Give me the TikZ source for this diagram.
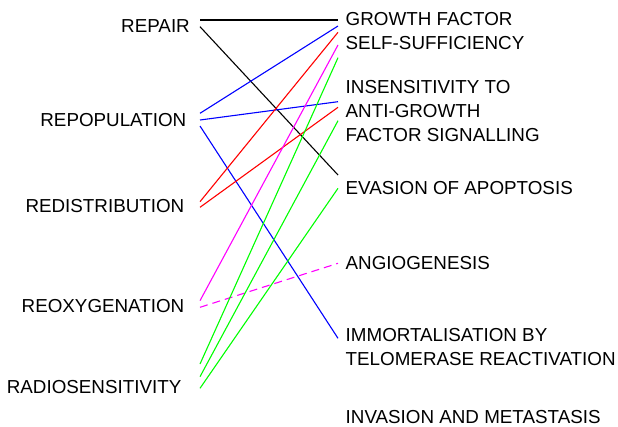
\documentclass[tikz,border=0pt]{standalone}
\usepackage{fontspec}
\setmainfont{Liberation Sans}
\definecolor{cmagenta}{RGB}{255,0,255}
\definecolor{cgreenc}{RGB}{0,255,0}
\definecolor{cbluec}{RGB}{0,0,255}
\definecolor{credc}{RGB}{255,0,0}
\begin{document}
\begin{tikzpicture}[x=1pt,y=-1pt,
  lbl/.style={inner sep=0pt,font=\fontsize{18.8}{24.3}\selectfont},
  lft/.style={lbl,anchor=base east},
  rgt/.style={lbl,anchor=base west},
  conn/.style={line width=1.1pt},
  cblack/.style={conn,black},
  cblue/.style={conn,cbluec},
  cred/.style={conn,credc},
  cmag/.style={conn,cmagenta},
  cgreen/.style={conn,cgreenc},
  cdash/.style={conn,cmagenta,dash pattern=on 8pt off 5pt}]
\useasboundingbox (0,0) rectangle (618,426);
% left labels
\node[lft] (repair) at (190,32) {REPAIR};
\node[lft] (repop) at (186.5,126) {REPOPULATION};
\node[lft] (redist) at (184.5,212) {REDISTRIBUTION};
\node[lft] (reoxy) at (184.5,312) {REOXYGENATION};
\node[lft] (radio) at (181.5,393) {RADIOSENSITIVITY};
% right labels
\node[rgt] (gf) at (345.5,25) {GROWTH FACTOR};
\node[rgt] (gf2) at (345.5,49.5) {SELF-SUFFICIENCY};
\node[rgt] (ins) at (345.5,93) {INSENSITIVITY TO};
\node[rgt] (ins2) at (345.5,117) {ANTI-GROWTH};
\node[rgt] (ins3) at (345.5,141) {FACTOR SIGNALLING};
\node[rgt] (eva) at (345.5,194) {EVASION OF APOPTOSIS};
\node[rgt] (ang) at (345.5,269) {ANGIOGENESIS};
\node[rgt] (imm) at (345.5,341) {IMMORTALISATION BY};
\node[rgt] (imm2) at (345.5,365) {TELOMERASE REACTIVATION};
\node[rgt] (inv) at (345.5,423) {INVASION AND METASTASIS};
% connector end points
\coordinate (rpA) at (200,20);   \coordinate (rpB) at (200,26.7);
\coordinate (poA) at (200,113.3); \coordinate (poB) at (200,120); \coordinate (poC) at (200,126);
\coordinate (diA) at (200,201.7); \coordinate (diB) at (200,207.3);
\coordinate (oxA) at (200,300.7); \coordinate (oxB) at (200,307.3);
\coordinate (raA) at (200,364); \coordinate (raB) at (200,376.7); \coordinate (raC) at (200,388.3);
\coordinate (gfA) at (338,20); \coordinate (gfB) at (338,26); \coordinate (gfC) at (338,32.3);
\coordinate (gfD) at (338,45); \coordinate (gfE) at (338,57.7);
\coordinate (inA) at (338,101.7); \coordinate (inB) at (338,107.3); \coordinate (inC) at (338,120.7);
\coordinate (evA) at (338,175); \coordinate (evB) at (338,188.3);
\coordinate (anA) at (338,263.3);
\coordinate (imA) at (338,338.3);
% connectors
\draw[cblack] (rpA) -- (gfA);
\draw[cblack] (rpB) -- (evA);
\draw[cblue] (poA) -- (gfB);
\draw[cblue] (poB) -- (inA);
\draw[cblue] (poC) -- (imA);
\draw[cred] (diA) -- (gfC);
\draw[cred] (diB) -- (inB);
\draw[cmag] (oxA) -- (gfD);
\draw[cdash] (oxB) -- (anA);
\draw[cgreen] (raA) -- (gfE);
\draw[cgreen] (raB) -- (inC);
\draw[cgreen] (raC) -- (evB);
\end{tikzpicture}
\end{document}
